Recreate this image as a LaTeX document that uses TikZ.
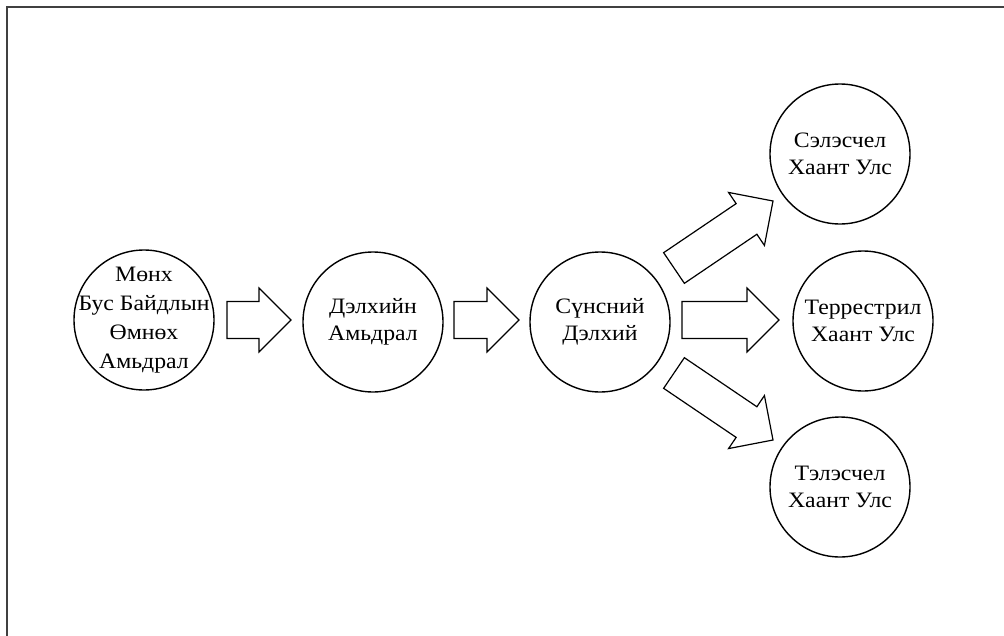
\documentclass[tikz,border=0pt]{standalone}
\usepackage{fontspec}
\setmainfont{Liberation Serif}[FakeStretch=1.08]
\usetikzlibrary{calc}
\definecolor{framegray}{RGB}{64,64,64}
\tikzset{
  stage/.style={circle, draw, line width=1.4pt, minimum size=140pt, inner sep=0pt,
    align=center, font=\fontsize{22}{27}\selectfont},
  stagetext/.style={inner sep=0pt, align=center, font=\fontsize{22}{29}\selectfont},
  blockarrow/.style={draw, line width=1.2pt, fill=white, line join=miter},
  framestyle/.style={draw=framegray, line width=2pt}
}
\newcommand{\blockarrow}[2]{%
  \coordinate (h) at ($(#2)!32pt!(#1)$);
  \draw[blockarrow] ($(#1)!18.5pt!90:(#2)$) -- ($(h)!18.5pt!90:(#2)$) -- ($(h)!32pt!90:(#2)$)
    -- (#2) -- ($(h)!32pt!-90:(#2)$) -- ($(h)!18.5pt!-90:(#2)$) -- ($(#1)!18.5pt!-90:(#2)$) -- cycle;}
\begin{document}
\begin{tikzpicture}[x=1pt,y=-1pt]
\useasboundingbox (0,0) rectangle (1004,635);
\clip (0,0) rectangle (1004,635);
\draw[framestyle] (7,700) -- (7,7) -- (1100,7);

\node[stage] (c1) at (144,320) {};
\node[stagetext] (t1) at (144,320) {Мөнх\\Бус Байдлын\\Өмнөх\\Амьдрал};
\node[stage] (c2) at (373,322) {Дэлхийн\\Амьдрал};
\node[stage] (c3) at (600,322) {Сүнсний\\Дэлхий};
\node[stage] (c4) at (840,154) {Сэлэсчел\\Хаант Улс};
\node[stage] (c5) at (863,321) {Террестрил\\Хаант Улс};
\node[stage] (c6) at (840,487) {Тэлэсчел\\Хаант Улс};

\coordinate (a1s) at (227,320); \coordinate (a1e) at (291,320);
\coordinate (a2s) at (454,320); \coordinate (a2e) at (519,320);
\coordinate (a3s) at (674,268); \coordinate (a3e) at (773,201);
\coordinate (a4s) at (682,320); \coordinate (a4e) at (779,320);
\coordinate (a5s) at (674,373); \coordinate (a5e) at (773,440);
\blockarrow{a1s}{a1e}
\blockarrow{a2s}{a2e}
\blockarrow{a3s}{a3e}
\blockarrow{a4s}{a4e}
\blockarrow{a5s}{a5e}
\end{tikzpicture}
\end{document}
